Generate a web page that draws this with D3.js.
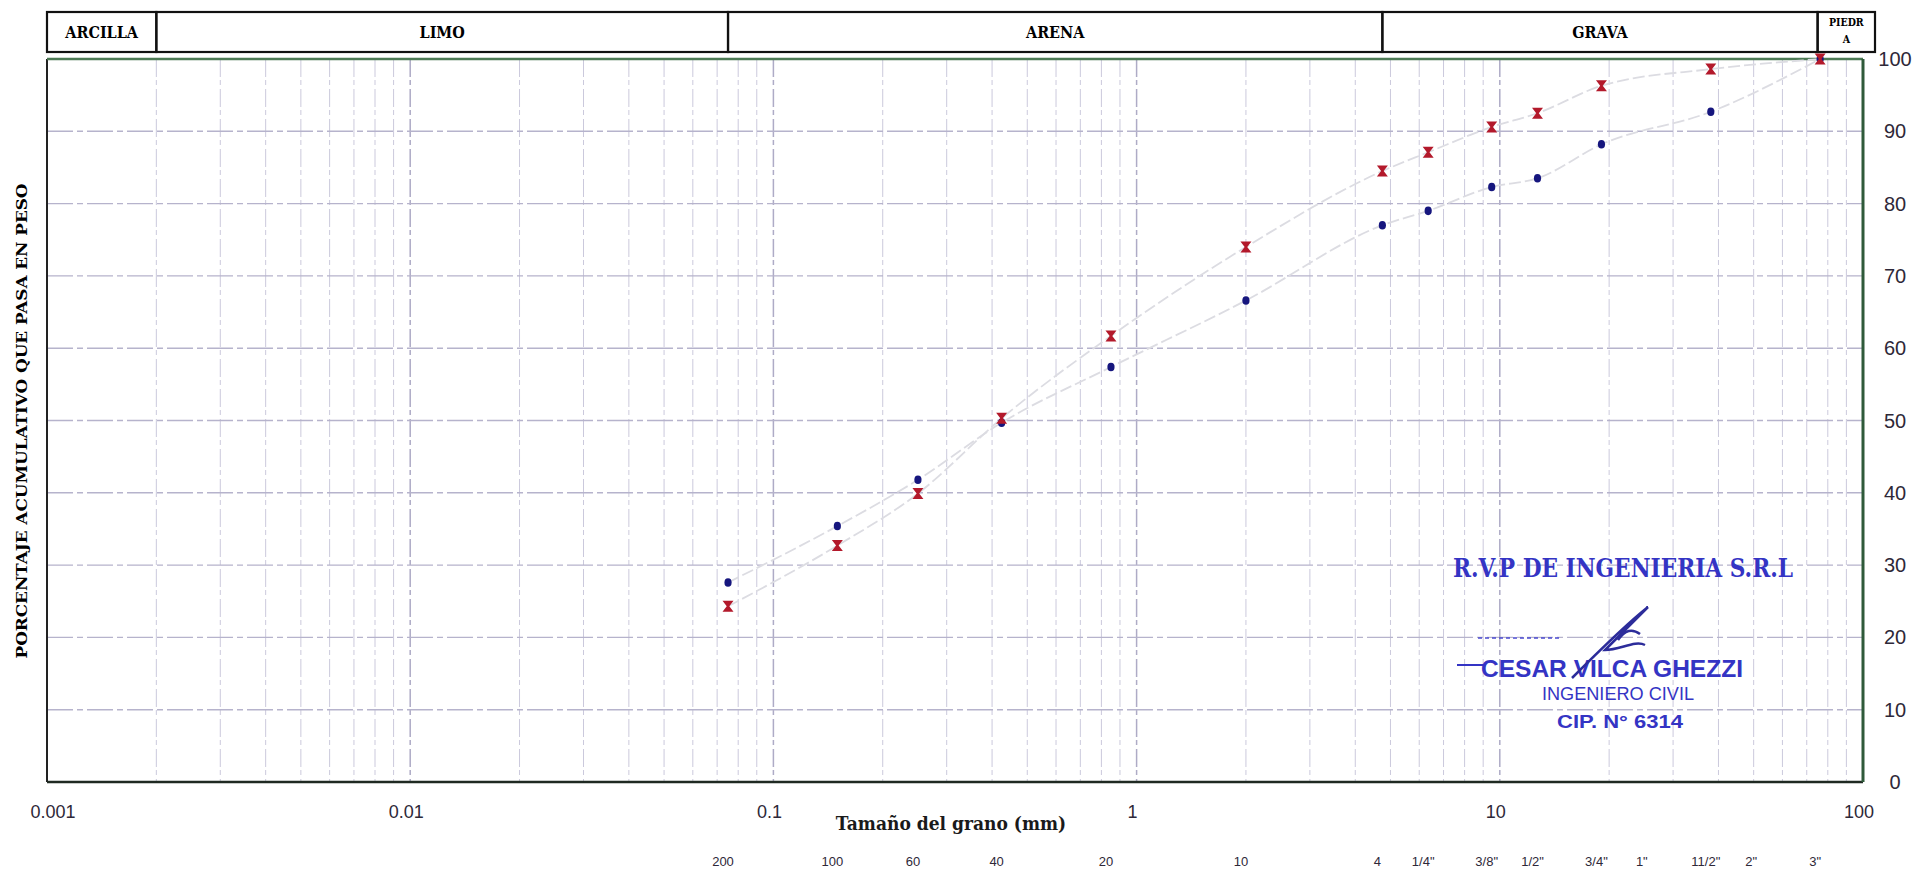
<!DOCTYPE html>
<html>
<head>
<meta charset="utf-8">
<script src="https://cdn.jsdelivr.net/npm/d3@7/dist/d3.min.js"></script>
<style>
  body { margin: 0; background: #fff; }
  .zone-label { font-family: "DejaVu Serif Condensed", "DejaVu Serif", serif; font-weight: bold; }
  .num { font-family: "Liberation Sans", Arial, sans-serif; fill: #2e2838; }
  .stamp { fill: #3434c4; }
</style>
</head>
<body>
<div id="chart"></div>
<script>

// sieve openings (mm) and their names
const sieveSizes = [0.075, 0.15, 0.25, 0.425, 0.85, 2.0, 4.75, 6.35, 9.5, 12.7, 19.05, 25.4, 38.1, 50.8, 76.2];
const sieveLabels = ["200", "100", "60", "40", "20", "10", "4", "1/4\"", "3/8\"", "1/2\"", "3/4\"", "1\"", "11/2\"", "2\"", "3\""];

// % passing, read from the sheet (null = no point drawn)
const pasaMuestra1 = [27.6, 35.4, 41.8, 49.7, 57.4, 66.6, 77.0, 79.0, 82.3, 83.5, 88.2, null, 92.7, null, 100];
const pasaMuestra2 = [24.3, 32.7, 39.9, 50.3, 61.7, 74.0, 84.5, 87.1, 90.6, 92.5, 96.3, null, 98.6, null, 100];

// soil classes along the top band
const zoneNames = ["ARCILLA", "LIMO", "ARENA", "GRAVA", "PIEDRA"];
const zoneLimits = [0.001, 0.002, 0.075, 4.75, 75, 100];

const xTicks = [0.001, 0.01, 0.1, 1, 10, 100];
const xTickLabels = ["0.001", "0.01", "0.1", "1", "10", "100"];
const yTicks = [0, 10, 20, 30, 40, 50, 60, 70, 80, 90, 100];


class GranulometryChart {

    constructor(parentElement) {
        this.parentElement = parentElement;
        this.initVis();
    }

initVis() {
    let vis = this;

    vis.margin = {top: 59, right: 49, bottom: 90, left: 47};
    vis.width = 1912 - vis.margin.left - vis.margin.right;
    vis.height = 872 - vis.margin.top - vis.margin.bottom;

    vis.root = d3.select("#" + vis.parentElement).append("svg")
        .attr("width", 1912)
        .attr("height", 872)
        .style("display", "block");

    vis.svg = vis.root.append("g")
        .attr("transform", "translate(" + vis.margin.left + "," + vis.margin.top + ")");

    // Scales
    vis.x = d3.scaleLog().domain([0.001, 100]).range([0, vis.width]);
    vis.y = d3.scaleLinear().domain([0, 100]).range([vis.height, 0]);

    // log grid: every 1..9 inside each decade
    let minor = [];
    for (let e = -3; e < 2; e++) {
        for (let k = 1; k < 10; k++) minor.push(k * Math.pow(10, e));
    }
    minor.push(100);

    vis.svg.append("g").selectAll("line")
        .data(minor)
        .enter().append("line")
        .attr("x1", d => vis.x(d)).attr("x2", d => vis.x(d))
        .attr("y1", 0).attr("y2", vis.height)
        .attr("stroke", d => xTicks.includes(d) ? "#aeabc6" : "#cbc9dc")
        .attr("stroke-width", d => xTicks.includes(d) ? 1.5 : 1)
        .attr("stroke-dasharray", "18,3,5,4");

    vis.svg.append("g").selectAll("line")
        .data(yTicks)
        .enter().append("line")
        .attr("x1", 0).attr("x2", vis.width)
        .attr("y1", d => vis.y(d)).attr("y2", d => vis.y(d))
        .attr("stroke", "#b6b3cc")
        .attr("stroke-width", 1.4)
        .attr("stroke-dasharray", "26,4,6,4");

    // frame
    vis.svg.append("line").attr("x1", 0).attr("x2", 0).attr("y1", 0).attr("y2", vis.height)
        .attr("stroke", "#222").attr("stroke-width", 2);
    vis.svg.append("line").attr("x1", 0).attr("x2", vis.width).attr("y1", vis.height).attr("y2", vis.height)
        .attr("stroke", "#1f2a22").attr("stroke-width", 2.5);
    vis.svg.append("line").attr("x1", 0).attr("x2", vis.width).attr("y1", 0).attr("y2", 0)
        .attr("stroke", "#4d7a55").attr("stroke-width", 2.5);
    vis.svg.append("line").attr("x1", vis.width).attr("x2", vis.width).attr("y1", 0).attr("y2", vis.height)
        .attr("stroke", "#2f5a3a").attr("stroke-width", 3);

    // top band with soil classes
    vis.band = vis.root.append("g").attr("transform", "translate(" + vis.margin.left + ",0)");
    let zones = zoneNames.map((n, i) => ({name: n, a: zoneLimits[i], b: zoneLimits[i + 1]}));

    vis.band.selectAll("rect")
        .data(zones)
        .enter().append("rect")
        .attr("x", d => vis.x(d.a))
        .attr("y", 12)
        .attr("width", d => vis.x(d.b) - vis.x(d.a) + (d.name == "PIEDRA" ? 12 : 0))
        .attr("height", 40)
        .attr("fill", "none")
        .attr("stroke", "#111")
        .attr("stroke-width", 2.2);

    vis.band.selectAll("text.zone-label")
        .data(zones.filter(d => d.name != "PIEDRA"))
        .enter().append("text")
        .attr("class", "zone-label")
        .attr("x", d => (vis.x(d.a) + vis.x(d.b)) / 2)
        .attr("y", 38)
        .attr("text-anchor", "middle")
        .attr("font-size", 16)
        .text(d => d.name);

    // PIEDRA is too narrow, it wraps in two lines
    let piedra = zones[4];
    let px = (vis.x(piedra.a) + vis.x(piedra.b) + 12) / 2;
    vis.band.append("text").attr("class", "zone-label")
        .attr("x", px).attr("y", 26).attr("text-anchor", "middle").attr("font-size", 10.5)
        .text(piedra.name.slice(0, 5));
    vis.band.append("text").attr("class", "zone-label")
        .attr("x", px).attr("y", 43).attr("text-anchor", "middle").attr("font-size", 10.5)
        .text(piedra.name.slice(5));

    // y labels on the right side
    vis.svg.append("g").selectAll("text")
        .data(yTicks)
        .enter().append("text")
        .attr("class", "num")
        .attr("x", vis.width + 32)
        .attr("y", d => vis.y(d) + 7)
        .attr("text-anchor", "middle")
        .attr("font-size", 20)
        .text(d => d);

    // x labels (decades)
    vis.svg.append("g").selectAll("text")
        .data(xTicks)
        .enter().append("text")
        .attr("class", "num")
        .attr("x", (d, i) => vis.x(d) + (i == 0 ? 6 : -4))
        .attr("y", vis.height + 36)
        .attr("text-anchor", "middle")
        .attr("font-size", 18)
        .text((d, i) => xTickLabels[i]);

    // sieve numbers
    vis.svg.append("g").selectAll("text")
        .data(sieveSizes)
        .enter().append("text")
        .attr("class", "num")
        .attr("x", (d, i) => vis.x(d) - 5)
        .attr("y", vis.height + 84)
        .attr("text-anchor", "middle")
        .attr("font-size", 13)
        .text((d, i) => sieveLabels[i]);

    // axis titles
    vis.svg.append("text")
        .attr("class", "zone-label")
        .attr("x", 951 - vis.margin.left)
        .attr("y", vis.height + 48)
        .attr("text-anchor", "middle")
        .attr("font-size", 19)
        .attr("fill", "#1a1a1a")
        .text("Tamaño del grano (mm)");

    vis.root.append("text")
        .attr("class", "zone-label")
        .attr("transform", "translate(27,421) rotate(-90)")
        .attr("text-anchor", "middle")
        .attr("font-size", 15)
        .attr("textLength", 475)
        .attr("lengthAdjust", "spacingAndGlyphs")
        .text("PORCENTAJE ACUMULATIVO QUE PASA EN PESO");

    vis.drawSeries();
    vis.drawStamp();
}

drawSeries() {
    let vis = this;

    let pts1 = sieveSizes.map((s, i) => ({s: s, p: pasaMuestra1[i]})).filter(d => d.p != null);
    let pts2 = sieveSizes.map((s, i) => ({s: s, p: pasaMuestra2[i]})).filter(d => d.p != null);

    vis.line = d3.line()
        .x(d => vis.x(d.s))
        .y(d => vis.y(d.p))
        .curve(d3.curveMonotoneX);

    [pts1, pts2].forEach(pts => {
        vis.svg.append("path")
            .datum(pts)
            .attr("d", vis.line)
            .attr("fill", "none")
            .attr("stroke", "#dcdce2")
            .attr("stroke-width", 1.8)
            .attr("stroke-dasharray", "12,4");
    });

    // blue dots
    vis.svg.append("g").selectAll("ellipse")
        .data(pts1)
        .enter().append("ellipse")
        .attr("cx", d => vis.x(d.s))
        .attr("cy", d => vis.y(d.p))
        .attr("rx", 3.6)
        .attr("ry", 4.3)
        .attr("fill", "#16167e");

    // red hourglass markers
    let hourglass = "M-5.5,-5.5 L5.5,-5.5 L1.3,0 L5.5,5.5 L-5.5,5.5 L-1.3,0 Z";
    vis.svg.append("g").selectAll("path")
        .data(pts2)
        .enter().append("path")
        .attr("d", hourglass)
        .attr("transform", d => "translate(" + vis.x(d.s) + "," + vis.y(d.p) + ")")
        .attr("fill", "#b3192b");
}

drawStamp() {
    let vis = this;
    let st = vis.root.append("g").attr("class", "stamp");

    st.append("text")
        .attr("x", 1453).attr("y", 577)
        .attr("font-family", "\"DejaVu Serif Condensed\", \"DejaVu Serif\", serif")
        .attr("font-weight", "bold")
        .attr("font-size", 26)
        .attr("textLength", 340)
        .attr("lengthAdjust", "spacingAndGlyphs")
        .text("R.V.P DE INGENIERIA S.R.L");

    st.append("line").attr("x1", 1478).attr("x2", 1560).attr("y1", 638).attr("y2", 638)
        .attr("stroke", "#4a4ad0").attr("stroke-width", 1.5).attr("stroke-dasharray", "4,3");
    st.append("line").attr("x1", 1457).attr("x2", 1484).attr("y1", 665).attr("y2", 665)
        .attr("stroke", "#3434c4").attr("stroke-width", 2);

    st.append("text")
        .attr("x", 1481).attr("y", 677)
        .attr("font-family", "\"Liberation Sans Narrow\", \"Liberation Sans\", sans-serif")
        .attr("font-weight", "bold")
        .attr("font-size", 23)
        .attr("textLength", 262)
        .attr("lengthAdjust", "spacingAndGlyphs")
        .text("CESAR VILCA GHEZZI");

    st.append("text")
        .attr("x", 1542).attr("y", 700)
        .attr("font-family", "\"Liberation Sans Narrow\", \"Liberation Sans\", sans-serif")
        .attr("font-size", 18)
        .attr("textLength", 152)
        .attr("lengthAdjust", "spacingAndGlyphs")
        .text("INGENIERO CIVIL");

    st.append("text")
        .attr("x", 1557).attr("y", 728)
        .attr("font-family", "\"Liberation Sans\", sans-serif")
        .attr("font-weight", "bold")
        .attr("font-size", 18)
        .attr("textLength", 126)
        .attr("lengthAdjust", "spacingAndGlyphs")
        .text("CIP. N° 6314");

    // signature
    st.append("path")
        .attr("d", "M1572,678 C1600,650 1625,625 1648,607 M1648,607 C1630,625 1615,640 1605,650 C1620,650 1635,640 1645,645 M1618,640 C1625,630 1632,628 1640,634")
        .attr("fill", "none")
        .attr("stroke", "#2c2c9a")
        .attr("stroke-width", 2.5);
}

}

new GranulometryChart("chart");
</script>
</body>
</html>
